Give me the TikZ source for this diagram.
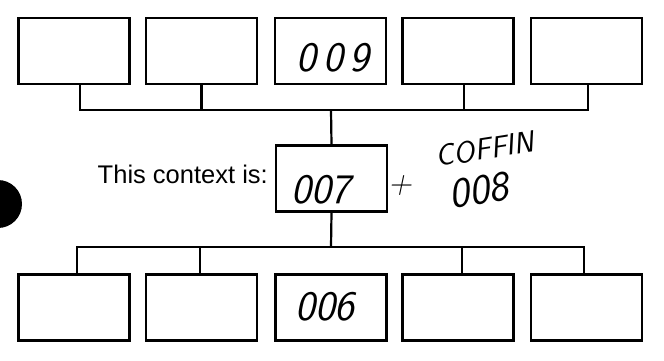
\documentclass[tikz,border=0pt]{standalone}
\usepackage{fontspec}
\setmainfont{Liberation Sans}

\begin{document}
\begin{tikzpicture}[
  x=1pt, y=-1pt,
  cell/.style={draw, line width=2.6pt, minimum width=111pt, minimum height=66pt, inner sep=0pt},
  link/.style={line width=2.2pt},
  hand/.style={font=\sffamily\itshape\fontsize{42}{42}\selectfont, inner sep=0pt},
  lbl/.style={font=\fontsize{25.5}{28}\selectfont, inner sep=0pt}
]
\useasboundingbox (0,0) rectangle (664,360);

%% ── Boxes ─────────────────────────────────────────────────────────────────────

% ── Top row ───────────────────────────────────────────────────────────────────
\node[cell] (top1) at (74, 51)    {};
\node[cell] (top2) at (201.5, 51) {};
\node[cell] (top3) at (330.5, 51) {};
\node[cell] (top4) at (458, 51)   {};
\node[cell] (top5) at (586.5, 51) {};

% ── Middle box (this context) ─────────────────────────────────────────────────
\node[cell] (mid) at (331.5, 178.5) {};
\node[lbl, anchor=base east] (ctx) at (268, 183) {This context is:};

% ── Bottom row ────────────────────────────────────────────────────────────────
\node[cell] (bot1) at (74, 307.5)    {};
\node[cell] (bot2) at (201.5, 307.5) {};
\node[cell] (bot3) at (331, 307.5)   {};
\node[cell] (bot4) at (458, 307.5)   {};
\node[cell] (bot5) at (586.5, 307.5) {};

% punch hole
\fill (-2, 204) circle (24);

%% ── Handwritten entries ───────────────────────────────────────────────────────

\node[hand] (n009) at (333, 58)  {0\,0\,9};
\node[hand] (n007) at (321, 190) {007};
\node[hand, font=\sffamily\itshape\fontsize{32}{32}\selectfont] (plus) at (400, 186) {+};
\node[hand, rotate=9, font=\sffamily\itshape\fontsize{30}{30}\selectfont] (coffin) at (485, 149) {COFFIN};
\node[hand, rotate=9] (n008) at (479, 190) {008};
\node[hand] (n006) at (325, 307) {006};

%% ── Connectors ────────────────────────────────────────────────────────────────

\coordinate (topbus) at (331, 110);
\coordinate (botbus) at (331, 247);

% Top row -> bus -> middle box
\draw[link] ([xshift=6pt]top1.south) |- (topbus) -| ([xshift=1.5pt]top5.south);
\draw[link] (top2.south) -- (top2.south |- topbus);
\draw[link] ([xshift=6pt]top4.south) -- ([xshift=6pt]top4.south |- topbus);
\draw[link] (topbus) -- (mid.north);

% Middle box -> bus -> bottom row
\draw[link] (mid.south) -- (botbus);
\draw[link] ([xshift=3pt]bot1.north) |- (botbus) -| ([xshift=-2.5pt]bot5.north);
\draw[link] ([xshift=-1.5pt]bot2.north) -- ([xshift=-1.5pt]bot2.north |- botbus);
\draw[link] ([xshift=4pt]bot4.north) -- ([xshift=4pt]bot4.north |- botbus);

\end{tikzpicture}
\end{document}
